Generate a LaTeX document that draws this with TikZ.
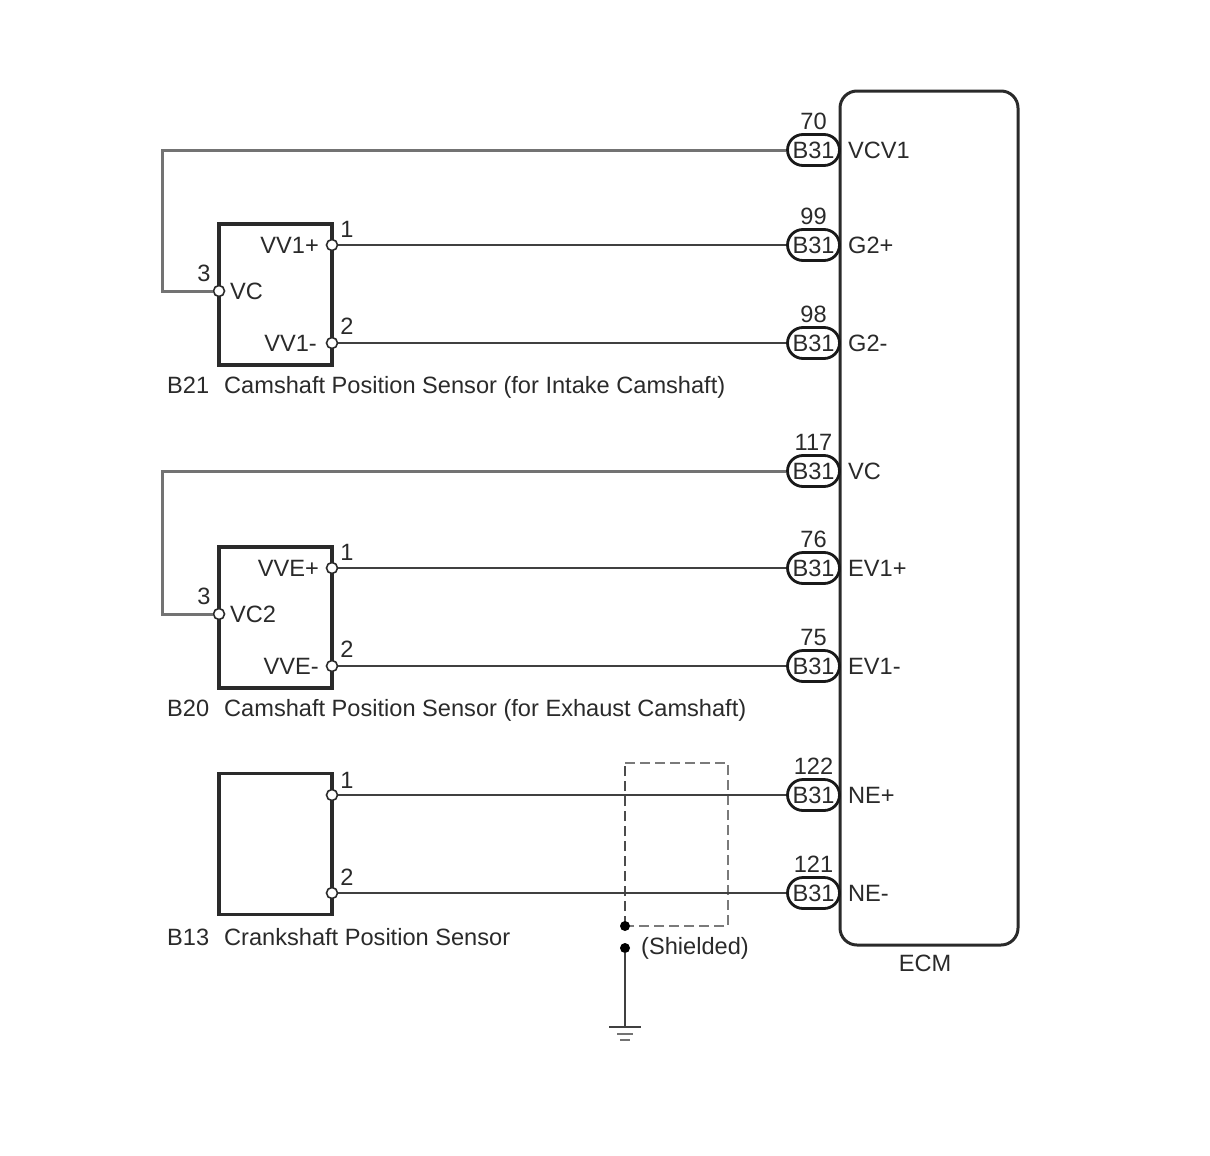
\documentclass[tikz,border=0pt]{standalone}
\usepackage{fontspec}
\setmainfont{Liberation Sans}
\usetikzlibrary{positioning,shapes.misc}
\definecolor{inkdark}{HTML}{2A2A2A}
\tikzset{%
	font=\fontsize{23.6}{27}\selectfont,
	every node/.append style={text=inkdark,inner sep=0pt},
	lbl/.style={text height=17pt,text depth=0pt},
	sensor/.style={draw=inkdark,line width=3.4pt,fill=white,minimum width=113pt,minimum height=141pt},
	ecmbox/.style={draw=inkdark,line width=3pt,rounded corners=17pt,fill=white,minimum width=178pt,minimum height=854pt},
	pill/.style={rounded rectangle,draw=black!90,line width=2.8pt,fill=white,minimum width=52pt,minimum height=31pt,lbl},
	pinpt/.style={circle,draw=inkdark,line width=1.6pt,fill=white,minimum size=11pt},
	dotpt/.style={circle,fill=black,minimum size=10pt},
	wire/.style={draw=black!75,line width=2pt},
	wirepale/.style={draw=black!55,line width=3pt},
	shield/.style={draw=black!52,line width=2.8pt,dash pattern=on 10pt off 5pt},
	shieldthin/.style={draw=black!70,line width=1.8pt,dash pattern=on 10pt off 5pt}
}
\begin{document}
\begin{tikzpicture}[x=1pt,y=-1pt]
	\useasboundingbox (0,0) rectangle (1210,1156);
	\node[ecmbox] (ecm) at (929,518) {};
	\node[lbl,below=8pt of ecm.south,xshift=-4pt] (ecmname) {ECM};
	% connector B31
	\foreach \num/\ypos/\sig in {70/150/VCV1,99/245/G2+,98/343/G2-,117/471/VC,76/568/EV1+,75/666/EV1-,122/795/NE+,121/893/NE-}{
		\node[pill] (b\num) at (813.5,\ypos) {B31};
		\node[lbl,above=3.5pt of b\num] (n\num) {\num};
		\node[lbl,anchor=west] (s\num) at (848,\ypos) {\sig};
	}
	% sensors
	\node[sensor] (intake) at (275.5,294.5) {};
	\node[sensor] (exhaust) at (275.5,617.5) {};
	\node[sensor] (crank) at (275.5,844) {};
	\node[lbl,anchor=west] (intakeid) at (167,385) {B21};
	\node[lbl,anchor=west] (intakename) at (224,385) {Camshaft Position Sensor (for Intake Camshaft)};
	\node[lbl,anchor=west] (exhaustid) at (167,708) {B20};
	\node[lbl,anchor=west] (exhaustname) at (224,708) {Camshaft Position Sensor (for Exhaust Camshaft)};
	\node[lbl,anchor=west] (crankid) at (167,937) {B13};
	\node[lbl,anchor=west] (crankname) at (224,937) {Crankshaft Position Sensor};
	% shield
	\coordinate (shA) at (625,763);
	\coordinate (shB) at (728,763);
	\coordinate (shC) at (728,926);
	\coordinate (shD) at (625,926);
	\coordinate (turnA) at (162,150);
	\coordinate (turnB) at (162,471);
	\draw[shieldthin] (shD) -- (shA);
	\draw[shield] (shA) -- (shB) -- (shC) -- (shD);
	% pins
	\foreach \pname/\xpos/\ypos/\plabel/\px/\py in {a/332/245/1/347/229,b/332/343/2/347/326,c/219/291/3/204/273,d/332/568/1/347/552,e/332/666/2/347/649,f/219/614/3/204/596,g/332/795/1/347/780,h/332/893/2/347/877}{
		\node[pinpt] (pin\pname) at (\xpos,\ypos) {};
		\node[lbl] (lab\pname) at (\px,\py) {\plabel};
	}
	\draw[wire] (pina) -- (b99);
	\draw[wire] (pinb) -- (b98);
	\draw[wire] (pind) -- (b76);
	\draw[wire] (pine) -- (b75);
	\draw[wire] (ping) -- (b122);
	\draw[wire] (pinh) -- (b121);
	\draw[wirepale] (b70) -- (turnA) |- (pinc);
	\draw[wirepale] (b117) -- (turnB) |- (pinf);
	% pin texts
	\node[lbl,anchor=east] (vvp) at (319,245) {VV1+};
	\node[lbl,anchor=east] (vvm) at (317,343) {VV1-};
	\node[lbl,anchor=west] (vc) at (230,291) {VC};
	\node[lbl,anchor=east] (vep) at (319,568) {VVE+};
	\node[lbl,anchor=east] (vem) at (319,666) {VVE-};
	\node[lbl,anchor=west] (vctwo) at (230,614) {VC2};
	% ground
	\node[dotpt] (dotA) at (625,926) {};
	\node[dotpt] (dotB) at (625,948) {};
	\node[lbl,anchor=west] (shieldname) at (641,946) {(Shielded)};
	\coordinate (gnd) at (625,1027);
	\coordinate (gndL) at (609,1027);
	\coordinate (gndR) at (641,1027);
	\coordinate (gndM) at (617,1034);
	\coordinate (gndMr) at (633,1034);
	\coordinate (gndS) at (620,1040);
	\coordinate (gndSr) at (630,1040);
	\draw[wire] (dotB) -- (gnd);
	\draw[wire] (gndL) -- (gndR);
	\draw[wirepale,line width=1.8pt] (gndM) -- (gndMr);
	\draw[wirepale,line width=1.8pt] (gndS) -- (gndSr);
\end{tikzpicture}
\end{document}
